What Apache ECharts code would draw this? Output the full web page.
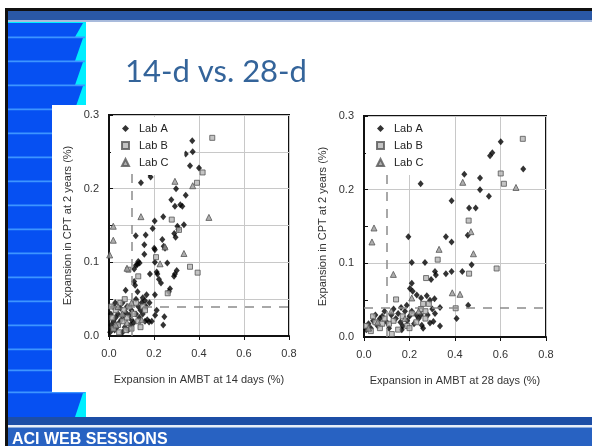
<!DOCTYPE html>
<html>
<head>
<meta charset="utf-8">
<script src="https://cdn.jsdelivr.net/npm/echarts@6.0.0/dist/echarts.min.js"></script>
<style>
  html, body { margin: 0; padding: 0; background: #fff; }
  #main { width: 592px; height: 446px; }
</style>
</head>
<body>
<div id="main"></div>
<script>
// AMBT 14-day expansion vs CPT 2-year expansion
var labA14 = [
  [0.370,0.265],[0.372,0.250],[0.341,0.247],[0.360,0.231],[0.400,0.228],[0.178,0.221],[0.185,0.216],
  [0.142,0.208],[0.298,0.200],[0.341,0.191],[0.277,0.185],[0.293,0.176],[0.317,0.178],[0.326,0.176],
  [0.241,0.162],[0.203,0.156],[0.304,0.149],[0.333,0.151],[0.194,0.146],[0.308,0.145],[0.119,0.136],
  [0.163,0.137],[0.290,0.139],[0.296,0.134],[0.237,0.131],[0.157,0.124],[0.243,0.122],[0.201,0.119],
  [0.249,0.119],[0.204,0.117],[0.157,0.111],[0.130,0.101],[0.136,0.099],[0.126,0.097],[0.120,0.096],
  [0.204,0.100],[0.259,0.099],[0.215,0.084],[0.289,0.081],[0.301,0.089],[0.293,0.084],[0.212,0.087],
  [0.112,0.091],[0.182,0.084],[0.222,0.077],[0.231,0.072],[0.112,0.074],[0.116,0.069],[0.271,0.064],
  [0.266,0.060],[0.074,0.062],[0.127,0.060],[0.167,0.056],[0.204,0.056],[0.150,0.052],[0.160,0.048],
  [0.145,0.045],[0.212,0.035],[0.246,0.026],[0.241,0.015],[0.178,0.019],[0.160,0.020],[0.190,0.020],
  [0.170,0.022],[0.205,0.028],[0.135,0.025],[0.120,0.030],[0.100,0.035],[0.080,0.040],[0.060,0.045],
  [0.050,0.038],[0.040,0.030],[0.030,0.025],[0.020,0.020],[0.010,0.015],[0.015,0.010],[0.025,0.008],
  [0.035,0.012],[0.045,0.018],[0.055,0.022],[0.065,0.028],[0.075,0.032],[0.090,0.028],[0.100,0.022],
  [0.110,0.018],[0.130,0.040],[0.140,0.035],[0.005,0.005],[0.008,0.030],[0.018,0.040],[0.028,0.045],
  [0.070,0.012],[0.085,0.008],[0.095,0.015],[0.060,0.005],[0.120,0.050],[0.165,0.040],[0.150,0.030],
  [0.180,0.045]
];
var labB14 = [
  [0.459,0.269],[0.416,0.222],[0.391,0.208],[0.279,0.158],[0.311,0.144],[0.209,0.107],[0.360,0.094],
  [0.394,0.086],[0.130,0.081],[0.261,0.058],[0.086,0.090],[0.020,0.010],[0.040,0.015],[0.060,0.020],
  [0.080,0.025],[0.100,0.010],[0.030,0.035],[0.050,0.045],[0.070,0.050],[0.090,0.040],[0.110,0.030],
  [0.130,0.020],[0.015,0.025],[0.045,0.005],[0.075,0.008],[0.120,0.045],[0.150,0.040],[0.160,0.035],
  [0.140,0.012],[0.010,0.040],[0.065,0.035]
];
var labC14 = [
  [0.293,0.210],[0.372,0.204],[0.142,0.162],[0.444,0.161],[0.019,0.149],[0.019,0.130],[0.249,0.121],
  [0.333,0.112],[0.003,0.110],[0.227,0.098],[0.080,0.092],[0.145,0.022],[0.060,0.030],[0.030,0.015],
  [0.100,0.045],[0.080,0.018],[0.040,0.040]
];

// AMBT 28-day expansion vs CPT 2-year expansion
var labA28 = [
  [0.601,0.265],[0.564,0.250],[0.554,0.246],[0.700,0.228],[0.441,0.221],[0.510,0.216],[0.249,0.208],
  [0.510,0.200],[0.549,0.191],[0.385,0.185],[0.462,0.175],[0.491,0.175],[0.195,0.136],[0.360,0.136],
  [0.385,0.129],[0.456,0.138],[0.210,0.101],[0.268,0.101],[0.473,0.098],[0.432,0.089],[0.385,0.089],
  [0.360,0.086],[0.312,0.089],[0.316,0.084],[0.295,0.078],[0.210,0.073],[0.202,0.066],[0.214,0.062],
  [0.232,0.057],[0.251,0.053],[0.276,0.056],[0.310,0.052],[0.290,0.050],[0.188,0.043],[0.163,0.040],
  [0.458,0.043],[0.407,0.025],[0.334,0.015],[0.305,0.021],[0.312,0.032],[0.334,0.040],[0.290,0.019],
  [0.254,0.016],[0.166,0.010],[0.250,0.030],[0.020,0.018],[0.040,0.022],[0.060,0.015],[0.080,0.028],
  [0.100,0.020],[0.120,0.030],[0.140,0.025],[0.160,0.020],[0.180,0.035],[0.200,0.028],[0.220,0.018],
  [0.240,0.025],[0.260,0.012],[0.280,0.030],[0.300,0.038],[0.090,0.035],[0.070,0.025],[0.050,0.030],
  [0.110,0.012],[0.130,0.038],[0.150,0.032],[0.170,0.015],[0.190,0.022],[0.210,0.035],[0.230,0.030],
  [0.010,0.010],[0.030,0.012]
];
var labB28 = [
  [0.698,0.269],[0.601,0.222],[0.615,0.208],[0.460,0.158],[0.324,0.105],[0.583,0.093],[0.462,0.086],
  [0.273,0.080],[0.141,0.051],[0.403,0.039],[0.122,0.004],[0.010,0.015],[0.030,0.008],[0.050,0.020],
  [0.070,0.012],[0.090,0.025],[0.110,0.018],[0.130,0.022],[0.150,0.010],[0.170,0.028],[0.190,0.015],
  [0.210,0.032],[0.230,0.020],[0.250,0.038],[0.270,0.035],[0.260,0.045],[0.040,0.028],[0.080,0.018],
  [0.200,0.012],[0.270,0.025],[0.285,0.045]
];
var labC28 = [
  [0.434,0.210],[0.668,0.203],[0.044,0.148],[0.035,0.129],[0.470,0.143],[0.330,0.119],[0.481,0.113],
  [0.129,0.085],[0.388,0.060],[0.422,0.058],[0.210,0.053],[0.060,0.020],[0.120,0.035],[0.180,0.025],
  [0.240,0.035],[0.020,0.012]
];

var labNames = ['Lab A', 'Lab B', 'Lab C'];
var xTicks = [0, 0.2, 0.4, 0.6, 0.8];
var yTicks = [0, 0.1, 0.2, 0.3];
var limitX = 0.1, limitY = 0.04, limitTop = 0.23;

var chart = echarts.init(document.getElementById('main'));
var axisFont = 'Liberation Sans, Arial, sans-serif';

function xAxisFor(idx, name) {
  return {
    gridIndex: idx, type: 'value',
    min: xTicks[0], max: xTicks[xTicks.length - 1], interval: xTicks[1] - xTicks[0],
    name: name, nameLocation: 'middle', nameGap: 38,
    nameTextStyle: { fontSize: 11, color: '#333', fontFamily: axisFont },
    axisLine: { lineStyle: { color: '#111', width: 2 } },
    axisTick: { show: true, length: 4, lineStyle: { color: '#111' } },
    axisLabel: { fontSize: 11, color: '#333', fontFamily: axisFont, margin: 12,
      formatter: function (v) { return v.toFixed(1); } },
    splitLine: { show: true, lineStyle: { color: '#c8c8c8', width: 1 } }
  };
}

function yAxisFor(idx, step) {
  return {
    gridIndex: idx, type: 'value',
    min: yTicks[0], max: yTicks[yTicks.length - 1], interval: step,
    name: 'Expansion in CPT at 2 years (%)', nameLocation: 'middle', nameGap: 36,
    nameTextStyle: { fontSize: 11, color: '#333', fontFamily: axisFont },
    axisLine: { lineStyle: { color: '#111', width: 2 } },
    axisTick: { show: true, inside: true, length: 4, lineStyle: { color: '#111' } },
    minorTick: { show: step > 0.05, splitNumber: 2, length: 4, lineStyle: { color: '#111' } },
    axisLabel: { fontSize: 11, color: '#333', fontFamily: axisFont, margin: 10,
      formatter: function (v) {
        return Math.round(v * 100) % 10 === 0 ? v.toFixed(1) : '';
      } },
    splitLine: { show: true, lineStyle: { color: '#c8c8c8', width: 1 } }
  };
}

var styles = [
  { symbol: 'diamond', size: [6, 7], itemStyle: { color: '#000' } },
  { symbol: 'rect', size: 5, itemStyle: { color: '#b5b5b5', borderColor: '#555', borderWidth: 1 } },
  { symbol: 'triangle', size: 6, itemStyle: { color: '#9a9a9a', borderColor: '#555', borderWidth: 1 } }
];

function seriesFor(idx, sets) {
  return sets.map(function (d, i) {
    var s = {
      name: labNames[i], type: 'scatter',
      xAxisIndex: idx, yAxisIndex: idx,
      symbol: styles[i].symbol, symbolSize: styles[i].size,
      itemStyle: styles[i].itemStyle,
      data: d, z: 3 + i
    };
    if (i === 0) {
      s.markLine = {
        silent: true, symbol: 'none', label: { show: false },
        lineStyle: { color: '#8c8c8c', type: [9, 8], width: 1.5 },
        data: [
          [{ coord: [limitX, 0] }, { coord: [limitX, limitTop] }],
          [{ coord: [0, limitY] }, { coord: [xTicks[xTicks.length - 1], limitY] }]
        ]
      };
    }
    return s;
  });
}

function legendFor(left) {
  return {
    data: labNames, orient: 'vertical', left: left, top: 117,
    itemWidth: 7, itemHeight: 7, itemGap: 6,
    padding: [6, 16, 7, 10], backgroundColor: '#fff',
    textStyle: { fontSize: 11, color: '#222', fontFamily: axisFont, padding: [0, 0, 0, 5] },
    selectedMode: false
  };
}

// slide decoration
var deco = [];
deco.push({ type: 'rect', shape: { x: 5, y: 8, width: 587, height: 3 }, style: { fill: '#111' } });
deco.push({ type: 'rect', shape: { x: 5, y: 8, width: 3, height: 438 }, style: { fill: '#111' } });
deco.push({ type: 'rect', shape: { x: 8, y: 11, width: 584, height: 9 }, style: { fill: '#2a58a6' } });
deco.push({ type: 'rect', shape: { x: 8, y: 20, width: 584, height: 2 }, style: { fill: '#a9bbdc' } });
deco.push({ type: 'rect', shape: { x: 8, y: 22, width: 78, height: 395 }, style: { fill: '#00eeff' } });
var seps = [22, 37, 61, 85, 109, 133, 157, 181, 205, 229, 253, 277, 301, 325, 349, 370, 392, 417];
for (var i = 0; i < seps.length - 1; i++) {
  var t = seps[i] + 1, b = seps[i + 1];
  deco.push({ type: 'polygon', shape: { points: [[8, t], [83, t], [75, b], [8, b]] }, style: { fill: '#0650f2' } });
  if (i > 0) deco.push({ type: 'rect', shape: { x: 8, y: seps[i] - 0.5, width: 77, height: 1.8 }, style: { fill: '#3d95ff' } });
}
deco.push({ type: 'rect', shape: { x: 52, y: 105, width: 505, height: 287 }, style: { fill: '#fff' } });
deco.push({ type: 'rect', shape: { x: 8, y: 417, width: 584, height: 8 }, style: { fill: '#1d4ea6' } });
deco.push({ type: 'rect', shape: { x: 8, y: 425, width: 584, height: 2.5 }, style: { fill: '#e8eef8' } });
deco.push({ type: 'rect', shape: { x: 8, y: 427.5, width: 584, height: 19 }, style: { fill: '#2862c2' } });
deco.push({ type: 'text', x: 12, y: 432, style: { text: 'ACI WEB SESSIONS', fill: '#fff',
  font: 'bold 16px Liberation Sans, Arial, sans-serif', textVerticalAlign: 'top' } });
deco.forEach(function (g) { g.silent = true; g.z = -10; });

var option = {
  backgroundColor: '#fff',
  animation: false,
  graphic: { elements: deco },
  title: {
    text: '14-d vs. 28-d', left: 120, top: 51,
    textStyle: { fontSize: 31, fontWeight: 'normal', color: '#34649a', fontFamily: 'Lato, Open Sans, sans-serif' }
  },
  legend: [legendFor(111), legendFor(366)],
  grid: [
    { left: 109, top: 115, width: 180, height: 221, show: true, borderColor: '#111', borderWidth: 2, backgroundColor: 'transparent' },
    { left: 364, top: 116, width: 182, height: 221, show: true, borderColor: '#111', borderWidth: 2, backgroundColor: 'transparent' }
  ],
  xAxis: [
    xAxisFor(0, 'Expansion in AMBT at 14 days (%)'),
    xAxisFor(1, 'Expansion in AMBT at 28 days (%)')
  ],
  yAxis: [yAxisFor(0, 0.05), yAxisFor(1, 0.1)],
  series: seriesFor(0, [labA14, labB14, labC14]).concat(seriesFor(1, [labA28, labB28, labC28]))
};

chart.setOption(option);
</script>
</body>
</html>
